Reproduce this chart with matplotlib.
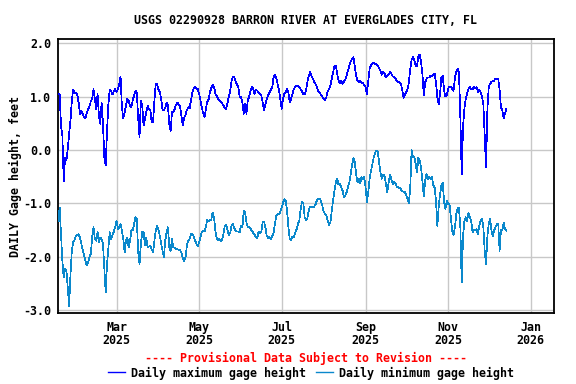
import matplotlib
matplotlib.use("Agg")
import matplotlib.pyplot as plt
from matplotlib.lines import Line2D
import pandas as pd

title = "USGS 02290928 BARRON RIVER AT EVERGLADES CITY, FL"
ylabel = "DAILY Gage height, feet"
provisional = "---- Provisional Data Subject to Revision ----"
series_names = ["Daily maximum gage height", "Daily minimum gage height"]
start_date = "2025-01-17"

max_vals = [
    1.05, 1.05, 0.46, 0.27, -0.58, -0.14, -0.20, 0.02, 0.30, 0.55,
    0.93, 1.13, 1.06, 1.08, 1.04, 0.89, 0.68, 0.73, 0.68, 0.61,
    0.60, 0.68, 0.77, 0.81, 0.91, 0.96, 1.14, 0.96, 0.77, 1.05,
    0.64, 0.49, 0.89, 0.49, -0.14, -0.29, 0.36, 0.86, 1.13, 1.11,
    1.04, 1.10, 1.14, 1.09, 1.14, 1.24, 1.38, 0.80, 0.60, 0.71,
    0.83, 0.96, 0.93, 0.83, 0.80, 0.94, 1.02, 1.11, 1.08, 0.61,
    0.24, 0.93, 0.83, 0.46, 0.58, 0.71, 0.83, 0.77, 0.75, 0.52,
    0.52, 0.93, 1.24, 1.24, 1.13, 1.08, 0.96, 0.74, 0.75, 0.79,
    0.89, 0.83, 0.49, 0.36, 0.71, 0.71, 0.77, 0.85, 0.89, 0.85,
    0.81, 0.64, 0.46, 0.60, 0.66, 0.75, 0.80, 0.78, 0.93, 1.08,
    1.16, 1.18, 1.16, 1.14, 1.06, 0.93, 0.80, 0.69, 0.62, 0.77,
    0.91, 0.94, 1.08, 1.16, 1.22, 1.19, 1.06, 1.01, 0.96, 0.93,
    0.91, 0.88, 0.83, 0.79, 0.77, 0.89, 1.00, 1.11, 1.30, 1.38,
    1.36, 1.29, 1.22, 1.18,
    0.99, 0.99, 0.89, 0.68, 0.86, 0.68, 0.93, 1.00, 1.11, 1.19,
    1.14, 1.05, 1.13, 1.11, 1.08, 1.06, 1.02, 0.89, 0.74, 0.85,
    0.96, 1.02, 1.08, 1.13, 1.16, 1.36, 1.41, 1.35, 1.24, 1.13,
    0.96, 0.77, 0.96, 1.05, 1.08, 1.14, 1.08, 0.89, 0.96, 1.05,
    1.14, 1.19, 1.21, 1.21, 1.18, 1.14, 1.10, 1.05, 1.04, 1.11,
    1.27, 1.39, 1.46, 1.39, 1.34, 1.28, 1.24, 1.18, 1.11, 1.08,
    1.04, 1.00, 0.96, 0.93, 0.99, 1.10, 1.14, 1.21, 1.33, 1.46,
    1.58, 1.58, 1.43, 1.30, 1.26, 1.30, 1.24, 1.28, 1.32, 1.39,
    1.49, 1.58, 1.66, 1.71, 1.74, 1.58, 1.39, 1.30, 1.27, 1.30,
    1.27, 1.25, 1.22, 1.18, 1.05, 1.30, 1.52, 1.59, 1.61, 1.64,
    1.61, 1.61, 1.58, 1.53, 1.49, 1.41, 1.46, 1.43, 1.36, 1.39,
    1.41, 1.46, 1.43, 1.38, 1.38, 1.34, 1.30, 1.28, 1.27, 1.25,
    1.14, 0.98, 1.04, 1.08, 1.14, 1.27, 1.52, 1.69, 1.74, 1.68,
    1.58, 1.58, 1.75, 1.79, 1.64, 1.43, 1.02, 1.27, 1.33, 1.36,
    1.36,
    1.39, 1.39, 1.41, 1.43, 1.27, 0.99, 0.86, 1.05, 1.36, 1.39,
    1.11, 1.00, 1.02, 1.15, 1.19, 1.19, 1.14, 1.11, 1.36, 1.46,
    1.52, 1.46, 0.61, -0.45, 0.43, 0.77, 0.96, 1.06, 1.14, 1.19,
    1.14, 1.14, 1.18, 1.16, 1.18, 1.09, 1.13, 1.08, 1.01, 0.86,
    0.24, -0.33, 0.77, 1.19, 1.24, 1.28, 1.29, 1.30, 1.34, 1.33,
    1.33, 1.14, 0.80, 0.74, 0.60, 0.68, 0.77,
]

min_vals = [
    -1.33, -1.08, -1.58, -2.08, -2.39, -2.23, -2.26, -2.58, -2.92, -2.33,
    -1.89, -1.73, -1.69, -1.61, -1.59, -1.58, -1.64, -1.76, -1.87, -1.96,
    -2.08, -2.16, -2.11, -2.01, -1.95, -1.64, -1.45, -1.67, -1.70, -1.54,
    -1.73, -1.64, -1.67, -1.76, -2.20, -2.67, -2.14, -1.83, -1.54, -1.67,
    -1.59, -1.53, -1.45, -1.33, -1.48, -1.45, -1.39, -1.51, -1.67, -1.92,
    -1.70, -1.64, -1.83, -1.70, -1.51, -1.50, -1.39, -1.26, -1.29, -1.92,
    -2.14, -1.76, -1.54, -1.54, -1.79, -1.65, -1.83, -1.81, -1.79, -1.86,
    -1.92, -1.70, -1.51, -1.43, -1.50, -1.61, -1.76, -1.89, -2.01, -1.70,
    -1.54, -1.45, -1.83, -1.89, -1.67, -1.83, -1.83, -1.85, -1.86, -1.87,
    -1.88, -1.92, -2.04, -2.08, -2.01, -1.79, -1.70, -1.67, -1.58, -1.58,
    -1.62, -1.69, -1.76, -1.81, -1.73, -1.64, -1.54, -1.51, -1.53, -1.44,
    -1.31, -1.33, -1.31, -1.31, -1.17, -1.26, -1.51, -1.65, -1.69, -1.67,
    -1.71, -1.69, -1.58, -1.42, -1.40, -1.51, -1.59, -1.56, -1.42, -1.39,
    -1.46, -1.51, -1.53, -1.53,
    -1.54, -1.42, -1.45, -1.14, -1.17, -1.36, -1.45, -1.45, -1.48, -1.51,
    -1.56, -1.59, -1.64, -1.65, -1.53, -1.56, -1.53, -1.36, -1.34, -1.45,
    -1.61, -1.65, -1.63, -1.67, -1.62, -1.56, -1.39, -1.24, -1.20, -1.21,
    -1.16, -1.08, -0.99, -0.92, -0.95, -1.14, -1.45, -1.67, -1.69, -1.62,
    -1.63, -1.56, -1.49, -1.39, -1.33, -1.12, -0.98, -1.00, -1.26, -1.31,
    -1.28, -1.14, -1.06, -1.06, -1.08, -1.06, -1.02, -0.95, -0.91, -0.91,
    -0.95, -1.04, -1.15, -1.20, -1.22, -1.33, -1.40, -1.36, -1.14, -0.95,
    -0.76, -0.61, -0.54, -0.65, -0.64, -0.70, -0.76, -0.89, -0.86, -0.79,
    -0.69, -0.61, -0.45, -0.29, -0.15, -0.23, -0.44, -0.61, -0.54, -0.63,
    -0.51, -0.54, -0.50, -0.70, -0.98, -0.79, -0.54, -0.39, -0.26, -0.14,
    -0.05, -0.01, -0.04, -0.23, -0.42, -0.54, -0.46, -0.48, -0.64, -0.79,
    -0.63, -0.46, -0.54, -0.64, -0.59, -0.62, -0.69, -0.70, -0.71, -0.73,
    -0.78, -0.78, -0.79, -0.84, -0.92, -1.00, -0.70, 0.00, -0.14, -0.13,
    -0.26, -0.42, -0.14, -0.20, -0.33, -0.58, -0.86, -0.58, -0.45, -0.54,
    -0.51,
    -0.54, -0.51, -0.66, -0.70, -0.95, -1.42, -1.08, -0.83, -0.67, -0.61,
    -0.98, -1.11, -0.95, -1.01, -1.01, -1.26, -1.51, -1.59, -1.45, -1.20,
    -1.09, -1.09, -1.45, -2.48, -1.61, -1.33, -1.26, -1.33, -1.17, -1.26,
    -1.33, -1.54, -1.50, -1.51, -1.48, -1.58, -1.42, -1.33, -1.29, -1.45,
    -1.89, -2.14, -1.61, -1.38, -1.29, -1.51, -1.61, -1.51, -1.44, -1.39,
    -1.38, -1.89, -1.50, -1.51, -1.36, -1.48, -1.51,
]

tick_dates = ["2025-03-01", "2025-05-01", "2025-07-01", "2025-09-01", "2025-11-01", "2026-01-01"]
tick_labels = ["Mar\n2025", "May\n2025", "Jul\n2025", "Sep\n2025", "Nov\n2025", "Jan\n2026"]
y_ticks = [2.0, 1.0, 0.0, -1.0, -2.0, -3.0]
x_range = ["2025-01-17", "2026-01-18 10:00"]
y_range = [-3.056, 2.075]

max_color = "#0000ff"
min_color = "#0a88cc"

plt.rcParams["font.family"] = ["DejaVu Sans Mono"]
plt.rcParams["font.weight"] = "bold"
fs = 8.4

fig = plt.figure(figsize=(5.76, 3.84), dpi=100)
ax = fig.add_axes([58.3 / 576, 1 - 313 / 384, (554.3 - 58.3) / 576, (313 - 39.3) / 384])

d_max = pd.date_range(start_date, periods=len(max_vals), freq="D")
d_min = pd.date_range(start_date, periods=len(min_vals), freq="D")
ax.plot(d_max, max_vals, color=max_color, lw=0.5, zorder=3, antialiased=False)
ax.plot(d_min, min_vals, color=min_color, lw=0.5, zorder=3, antialiased=False)

ax.set_xlim(pd.Timestamp(x_range[0]), pd.Timestamp(x_range[1]))
ax.set_ylim(*y_range)
ax.set_xticks([pd.Timestamp(t) for t in tick_dates])
ax.set_xticklabels(tick_labels, fontsize=fs, fontweight="bold", linespacing=1.0)
ax.set_yticks(y_ticks)
ax.set_yticklabels([f"{v:.1f}" for v in y_ticks], fontsize=fs, fontweight="bold")
ax.tick_params(axis="both", length=0, pad=5)
ax.tick_params(axis="x", pad=6)
ax.grid(True, color="#c8c8c8", lw=1.0, zorder=0)
for s in ax.spines.values():
    s.set_linewidth(1.3)
    s.set_color("black")

ax.set_ylabel(ylabel, fontsize=fs, fontweight="bold", labelpad=1)
fig.text(306 / 576, 1 - 20 / 384, title, ha="center", va="center", fontsize=fs, fontweight="bold")
fig.text(306 / 576, 1 - 358 / 384, provisional, ha="center", va="center", fontsize=fs,
         fontweight="bold", color="red")

handles = [Line2D([], [], color=max_color, lw=1.0), Line2D([], [], color=min_color, lw=1.0)]
fig.legend(handles, series_names, loc="center", bbox_to_anchor=(311 / 576, 1 - 373 / 384), ncol=2,
           frameon=False, handlelength=1.5, handletextpad=0.5, columnspacing=0.8,
           borderpad=0, borderaxespad=0, prop={"weight": "bold", "size": fs})

fig.savefig("out.png", dpi=100)
